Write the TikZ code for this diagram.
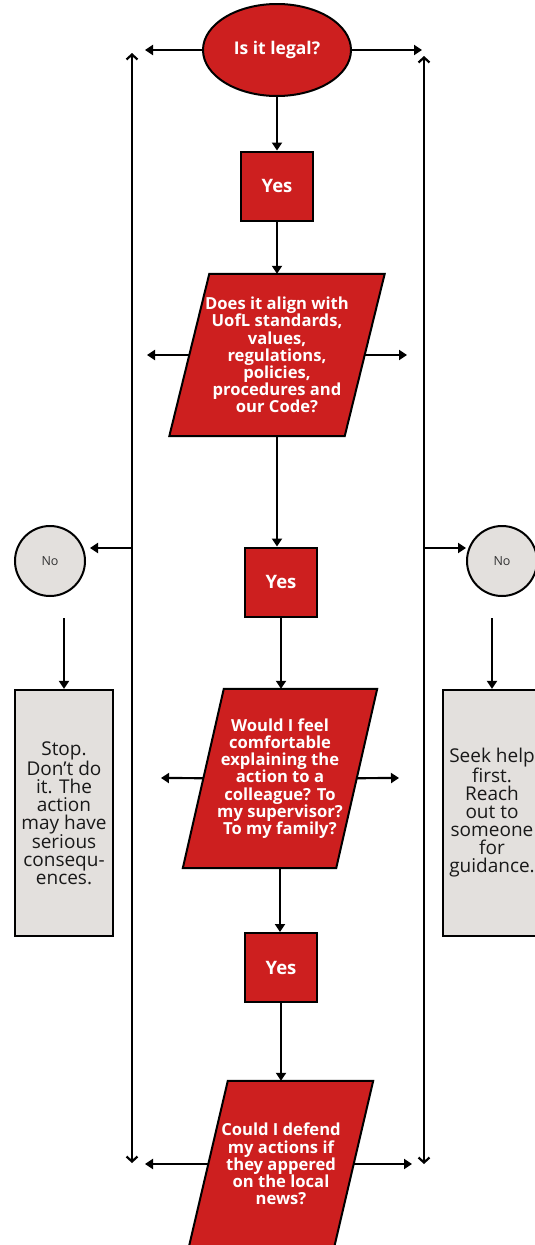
\documentclass[tikz,border=0pt]{standalone}
\usepackage{fontspec}
\setmainfont{Open Sans}
\usetikzlibrary{
    positioning,
    backgrounds,
	shapes.geometric,
    arrows.meta
    }

\definecolor{uofl red}{HTML}{CD1F1F}
\definecolor{note gray}{HTML}{E3E0DD}

\begin{document}
\begin{tikzpicture}[x=1pt, y=-1pt]
\tikzset{legal/.style =
        {
            shape=ellipse,
            draw=black,
            line width=2pt,
            fill=uofl red,
            text=white,
            font=\bfseries\fontsize{17.5}{18}\selectfont,
            minimum width=148pt,
            minimum height=92pt,
            inner sep=0pt
        }
}

\tikzset{yesbox/.style =
        {
            rectangle,
            draw=black,
            line width=2pt,
            fill=uofl red,
            text=white,
            font=\bfseries\fontsize{18.5}{18}\selectfont,
            minimum width=72pt,
            minimum height=69pt,
            inner sep=0pt
        }
}

\tikzset{query/.style =
        {
            rectangle,
            text=white,
            font=\bfseries\fontsize{16.6}{17.2}\selectfont,
            align=center,
            inner sep=0pt
        }
}

\tikzset{slant/.style =
        {
            draw=black,
            line width=2pt,
            fill=uofl red,
            line join=miter
        }
}

\tikzset{nobubble/.style =
        {
            shape=circle,
            draw=black,
            line width=2pt,
            fill=note gray,
            text=black!80,
            font=\fontsize{12.5}{14}\selectfont,
            minimum size=70pt,
            inner sep=0pt
        }
}

\tikzset{advice/.style =
        {
            rectangle,
            draw=black,
            line width=2.2pt,
            fill=note gray,
            text=black!90,
            font=\fontsize{19}{18}\selectfont,
            align=center,
            minimum width=98pt,
            minimum height=246pt,
            inner sep=0pt
        }
}

\tikzset{flow/.style = {
            line width=2.2pt,
            -{Triangle[length=8pt, width=10pt]}
        }
}

\tikzset{rail/.style = {
            line width=2.2pt,
            {Straight Barb[length=5pt, width=11pt]}-{Straight Barb[length=5pt, width=11pt]}
        }
}

		\useasboundingbox (0,0) rectangle (535,1245);
		\clip (0,0) rectangle (535,1245);

		\node[legal] at (277,50) (legal) {Is it legal?};
		\node[yesbox] at (277,186) (yes1) {Yes};
		\node[query, minimum width=175pt, minimum height=162pt] at (277,355) (align)
			{Does it align with\\UofL standards,\\values,\\regulations,\\policies,\\procedures and\\our Code?};
		\node[yesbox] at (281,582) (yes2) {Yes};
		\node[query, minimum width=153pt, minimum height=179pt] at (280,778.5) (explain)
			{Would I feel\\comfortable\\explaining the\\action to a\\colleague? To\\my supervisor?\\To my family?};
		\node[yesbox] at (281,967.5) (yes3) {Yes};
		\node[query, minimum width=145pt, minimum height=166pt] at (281,1164) (news)
			{Could I defend\\my actions if\\they appered\\on the local\\news?};

		\node[nobubble] at (50,561) (no-l) {No};
		\node[nobubble] at (502,561) (no-r) {No};
		\node[advice] at (64,813) (stop)
			{Stop.\\Don’t do\\it. The\\action\\may have\\serious\\consequ-\\ences.};
		\node[advice] at (492,813) (help)
			{Seek help\\first.\\Reach\\out to\\someone\\for\\guidance.};

		\begin{scope}[on background layer]
			\foreach \q / \off in {align/40, explain/41, news/39}
			\draw[slant] ([xshift=\off/2]\q.north west) -- ([xshift=\off/2]\q.north east)
				-- ([xshift=-\off/2]\q.south east) -- ([xshift=-\off/2]\q.south west) -- cycle;
		\end{scope}

		\coordinate (rail-l-top) at (132,53);
		\coordinate (rail-l-bot) at (132,1163);
		\coordinate (rail-r-top) at (424,56);
		\coordinate (rail-r-bot) at (424,1164);
		\coordinate (fork-l) at (132,548);
		\coordinate (fork-r) at (424,548);

		\draw[rail] (rail-l-bot) -- (rail-l-top);
		\draw[rail] (rail-r-bot) -- (rail-r-top);

		\foreach \q / \lx / \rx / \y in
			{legal/145/422/50,
				align/147/407/355,
				explain/161/399/778,
				news/145/412/1164}
			{
				\coordinate (\q-l) at (\lx,\y);
				\coordinate (\q-r) at (\rx,\y);
				\draw [flow] (\q) -- (\q-l);
				\draw [flow] (\q) -- (\q-r);
			}

		\draw[flow] (legal) -- (yes1);
		\draw[flow] (yes1) -- (align);
		\draw[flow] (align.south) -- (align.south |- yes2.north);
		\draw[flow] (yes2.south) -- (yes2.south |- explain.north);
		\draw[flow] (explain.south) -- (explain.south |- yes3.north);
		\draw[flow] (yes3.south) -- (yes3.south |- news.north);

		\draw[flow] (fork-l) -- ([xshift=4pt]fork-l -| no-l.east);
		\draw[flow] (fork-r) -- (fork-r -| no-r.west);
		\draw[flow] ([yshift=-21pt]no-l.south -| stop.north) -- (stop.north);
		\draw[flow] ([yshift=-21pt]no-r.south -| help.north) -- (help.north);

	\end{tikzpicture}
\end{document}
